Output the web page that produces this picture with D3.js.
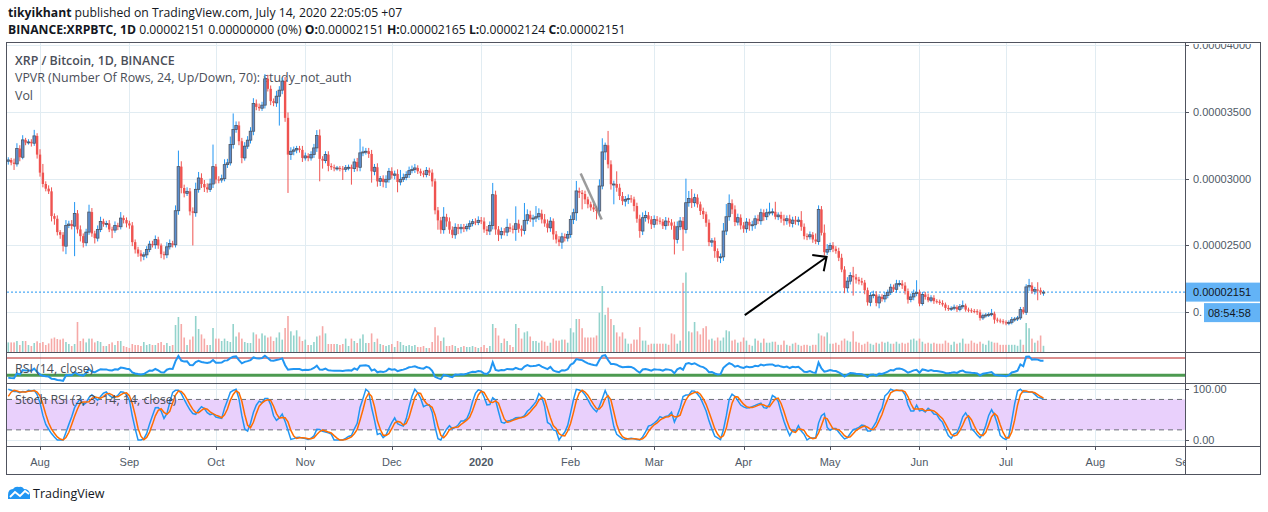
<!DOCTYPE html>
<html>
<head>
<meta charset="utf-8">
<script src="https://cdn.jsdelivr.net/npm/d3@7"></script>
<style>
  body { margin: 0; background: #fff; }
  svg { display: block; font-family: "Open Sans", sans-serif; }
</style>
</head>
<body>
<svg id="chart" width="1268" height="512"></svg>
<script>
// closes in satoshi (1e-8 BTC), one per day, first visible day = Jul 21 2019
var firstDay = Date.UTC(2019, 6, 21);
// closes before the visible range, only used to warm up RSI / Stoch RSI
var warmupClose = [5000,4950,4900,4880,4800,4700,4650,4600,4620,4630,4500,4300,4150,4050,3800,3550,3800,3750,3700,3720,
  3680,3650,3560,3500,3480,3470,3520,3480,3420,3350,3300,3250,3230,3150,3120,3180,3090,3050,3100,3130];

var closeJul19 = [3140,3120,3110,3225,3160,3290,3270,3275,3265,3320,3180];
var closeAug19 = [3045,2960,2925,2905,2720,2700,2600,2580,2495,2650,2660,2645,2740,2620,2570,2520,2600,2750,2590,2555,
  2620,2680,2660,2665,2620,2615,2650,2640,2705,2690,2665];
var closeSep19 = [2650,2525,2470,2440,2420,2430,2470,2510,2505,2545,2500,2435,2430,2490,2515,2505,2760,3090,2930,2890,
  2905,2755,2745,2920,3005,2960,2935,2920,2960,3090];
var closeOct19 = [2993,2990,3000,3105,3118,3255,3368,3398,3280,3155,3243,3288,3355,3562,3537,3527,3550,3747,3672,3580,
  3567,3617,3662,3730,3455,3180,3205,3215,3225,3215,3155];
var closeNov19 = [3170,3155,3180,3230,3323,3148,3135,3180,3095,3085,3080,3080,3075,3070,3082,3085,3075,3125,3085,3193,
  3200,3205,3185,3055,3085,2980,3000,2975,2995,3055];
var closeDec19 = [3025,3035,2975,2995,3008,3030,3060,3068,3080,3055,3040,3030,3062,3045,2980,2763,2688,2618,2712,2680,
  2618,2580,2636,2625,2636,2625,2643,2663,2678,2672,2688];
var closeJan20 = [2680,2620,2608,2650,2880,2620,2580,2605,2600,2636,2625,2620,2663,2625,2612,2688,2730,2700,2705,2715,
  2738,2695,2665,2632,2682,2583,2545,2525,2565,2555,2583];
var closeFeb20 = [2695,2745,2908,2895,2885,2845,2808,2785,2770,2758,2945,3200,3250,3107,2958,2960,2932,2870,2832,2845,
  2852,2845,2795,2700,2608,2708,2725,2695,2658];
var closeMar20 = [2695,2685,2678,2648,2683,2672,2648,2545,2640,2683,2620,2820,2852,2820,2858,2808,2758,2733,2670,2525,
  2535,2458,2408,2415,2608,2715,2815,2770,2675,2708,2650];
var closeApr20 = [2625,2675,2650,2655,2700,2685,2745,2715,2745,2750,2752,2715,2728,2700,2685,2700,2665,2690,2680,2690,
  2640,2570,2565,2580,2545,2530,2770,2595,2450,2470];
var closeMay20 = [2500,2475,2458,2408,2320,2183,2233,2275,2262,2245,2233,2222,2165,2075,2125,2132,2070,2115,2100,2125,
  2150,2188,2172,2213,2215,2200,2158,2095,2115,2140,2150];
var closeJun20 = [2065,2133,2115,2090,2108,2083,2080,2070,2058,2033,2025,2030,2038,2022,2042,2050,2020,2015,2010,2008,
  2000,1958,1975,1980,1985,1990,1945,1938,1933,1925];
var closeJul20 = [1918,1925,1945,1950,1958,2020,2000,2190,2200,2158,2170,2165,2151,2151];

// wick lengths above / below the body, satoshi
var wickUp = [].concat(
  [20,15,30,40,25,35,15,20,20,45,20],
  [40,65,20,25,30,20,25,15,20,40,25,30,85,25,30,20,25,55,30,20,30,35,20,20,25,20,30,20,45,20,20],
  [20,25,20,20,25,20,25,25,25,30,20,15,20,35,30,20,40,120,40,25,30,25,30,50,45,35,30,30,40,165],
  [20,25,30,40,30,60,120,30,30,25,30,30,30,40,30,25,25,35,30,25,20,40,30,25,30,40,30,25,20,20,30],
  [25,20,25,30,40,45,20,25,25,20,20,15,15,20,20,20,20,25,30,105,40,25,25,30,25,30,20,25,30,25],
  [30,25,35,70,30,25,30,30,30,20,20,20,25,20,25,20,25,25,75,25,30,25,30,25,25,25,20,25,20,25,30],
  [25,30,25,30,88,30,25,30,25,64,30,25,130,30,25,130,40,30,25,80,40,30,40,30,30,20,25,25,30,25,25],
  [30,30,75,25,20,25,20,20,25,25,50,102,20,107,30,25,95,30,30,25,30,25,20,25,30,40,35,25,25],
  [30,25,25,20,30,25,25,30,40,30,30,180,56,70,30,25,20,25,20,25,20,25,20,25,60,95,67,30,30,30,25],
  [25,30,25,30,25,30,30,25,30,70,25,75,20,25,30,25,30,25,30,25,67,25,20,25,20,45,30,25,62,40],
  [20,25,20,25,30,25,30,25,65,25,20,25,20,20,25,30,25,20,20,25,20,25,20,30,25,25,25,20,25,30,90],
  [20,20,20,25,20,20,15,15,20,15,20,15,20,15,20,38,15,15,15,15,15,20,15,15,15,35,15,15,15,15],
  [15,15,20,15,15,20,20,20,50,25,20,55,20,14]
);
var wickDown = [].concat(
  [25,20,45,20,30,15,20,15,25,20,30],
  [30,25,20,20,40,45,25,30,40,60,20,25,225,30,40,35,25,20,25,40,25,20,20,25,20,60,20,25,20,25,30],
  [25,30,30,25,40,30,25,20,20,30,25,30,35,25,20,20,20,30,40,30,20,30,245,30,25,30,35,25,20,30],
  [30,25,20,20,25,20,30,25,30,40,20,20,25,30,25,20,20,25,20,30,25,30,220,30,30,287,40,30,25,20,30],
  [20,25,20,25,30,168,60,20,40,20,25,20,20,80,20,20,120,25,30,30,25,20,30,85,30,40,35,40,45,25],
  [25,30,77,25,20,20,25,20,25,20,20,20,20,25,40,30,70,30,30,40,30,25,30,40,35,25,20,25,20,20,20],
  [20,25,30,30,30,40,47,30,25,30,25,30,85,30,45,30,30,25,60,30,25,30,25,35,30,40,30,30,50,25,25],
  [25,35,60,40,115,35,30,25,20,63,40,25,60,30,40,150,30,30,30,40,35,25,40,30,50,30,30,30,35],
  [25,30,20,25,30,25,30,112,30,25,160,30,30,40,30,25,30,35,30,30,35,50,30,40,30,30,30,35,30,25,30],
  [30,30,40,40,30,25,30,30,25,20,25,20,25,30,35,30,25,30,25,30,30,25,25,20,25,20,25,20,25,20],
  [20,25,20,25,20,40,30,25,137,30,25,20,30,25,30,20,25,40,20,25,20,20,20,25,20,25,25,30,20,25,20],
  [20,15,20,15,15,20,15,15,15,20,15,15,15,20,15,15,15,15,15,15,20,20,15,15,15,15,30,15,15,15],
  [15,15,15,15,15,15,15,20,30,20,25,75,20,27]
);

// volume per day (relative units)
var volJul19 = [9.6,9.6,9.6,11,7,11,11,7,6,9,10.7];
var volAug19 = [9,10,7,8.6,13.4,14.5,13,12.4,13.4,10,8,6,8,30,11,13.4,9.6,13.4,13.4,9.6,11,10,6,6,8,9.6,7,11,11,6,5];
var volSep19 = [4,8,7,7,6,10,7,8,7,7,9,10,7,9,6,7,27,35,28,14.5,7,12.4,15.5,36,23,17.6,13.4,7,7,24];
var volOct19 = [13.4,13.4,11,13.4,11,10,28,15.5,19.6,13.4,10,9,9,19.6,17.6,13.4,18.6,16.5,14.5,15.5,11,14.5,19.6,12.4,24,36,20.7,16.5,21.7,15.5,11];
var volNov19 = [12.4,7,7,10,15.5,16.5,25.8,18.6,8,8,8,8,7,8,13.4,6,13.4,11,9,13.4,17.6,9,9,18.6,10,13.4,8,7,6,7];
var volDec19 = [8,5,11,10,7,6,7,6,7,5,5,6,4,4,10,24.8,16.5,11,14.5,6,6,7,6,4,5,6,5,5,6,5,4];
var volJan20 = [5,7,4,6,28,24,16.5,9,13.4,11,7,5,28,24,13.4,19.6,20.7,15.5,11,11,9.3,11.4,10.3,6.2,9.3,13.4,11.4,11.4,12.4,12.4,9.3];
var volFeb20 = [23.8,19.6,33,33,23.8,14.5,14.5,14.5,14.5,16.5,39.3,66,37.2,44.4,33,26.9,19.6,15.5,19.6,13.4,8.3,8.3,12.4,12.4,24.8,11.4,11.4,7.2,8.3];
var volMar20 = [8.3,8.3,8.3,8.3,8.3,7.2,18.6,17.6,8.3,11.4,69.2,79.5,20.7,19.6,30,20.7,17.6,23.8,25.8,12.4,13.4,11.4,14.5,11.4,14.5,21.7,20.7,11.4,12.4,9.3,10.3];
var volApr20 = [14.5,11.4,7.2,6.2,13.4,11.4,9.3,13.4,9.3,9.3,10.3,10.3,7.2,7.2,11.4,7.2,6.2,8.3,9.3,7.2,6.2,7.2,7.2,6.2,7.2,7.2,18.6,16.5,15.5,19.6];
var volMay20 = [8.3,8.3,9.3,7.2,11.4,13.4,11.4,10.3,20.7,10.3,9.3,7.2,8.3,10.3,8.3,7.2,9.3,8.3,10.3,9.3,10.3,8.3,8.3,10.3,8.3,9.3,8.3,9.3,12.4,13.4,11.4];
var volJun20 = [13.4,10.3,8.3,9.3,8.3,9.3,8.3,8.3,8.3,11.4,9.3,7.2,10.3,8.3,9.3,13.4,8.3,8.3,11.4,9.3,8.3,10.3,8.3,7.2,11.4,10.3,9.3,9.3,7.2,7.2];
var volJul20 = [7.2,7.2,7.2,7.2,6.2,12.4,7.2,29,23.8,13.4,9.3,11.4,16.5,6.2];

// axis ticks
var priceTicks = [2000, 2500, 3000, 3500, 4000];
var monthTicks = [
  [2019,7,"Aug"],[2019,8,"Sep"],[2019,9,"Oct"],[2019,10,"Nov"],[2019,11,"Dec"],[2020,0,"2020"],
  [2020,1,"Feb"],[2020,2,"Mar"],[2020,3,"Apr"],[2020,4,"May"],[2020,5,"Jun"],[2020,6,"Jul"],[2020,7,"Aug"],[2020,8,"Sep"]
];
var lastPrice = 2151;

// drawings on the chart: [utc date string, price]
var arrowLine = [["2020-04-01T10:00Z", 1979], ["2020-04-29T19:00Z", 2414]];
var trendLine = [["2020-02-04T12:00Z", 3039], ["2020-02-11T19:00Z", 2694]];

// -------------------------------------------------------------
var closes = [].concat(closeJul19, closeAug19, closeSep19, closeOct19, closeNov19, closeDec19,
  closeJan20, closeFeb20, closeMar20, closeApr20, closeMay20, closeJun20, closeJul20);
var volumes = [].concat(volJul19, volAug19, volSep19, volOct19, volNov19, volDec19,
  volJan20, volFeb20, volMar20, volApr20, volMay20, volJun20, volJul20);

var candles = closes.map(function(c, i) {
  var o = i === 0 ? warmupClose[warmupClose.length - 1] : closes[i - 1];
  return {
    date: new Date(firstDay + i * 864e5),
    o: o, c: c,
    h: Math.max(o, c) + wickUp[i],
    l: Math.min(o, c) - wickDown[i],
    v: volumes[i],
    up: c >= o
  };
});

// RSI(14) and Stoch RSI(3,3,14,14)
var all = warmupClose.concat(closes);
var rsi = [];
var ag = 0, al = 0;
for (var i = 1; i < all.length; i++) {
  var ch = all[i] - all[i - 1];
  var g = Math.max(ch, 0), l = Math.max(-ch, 0);
  if (i <= 14) {
    ag += g / 14; al += l / 14;
    rsi[i] = i === 14 ? 100 - 100 / (1 + ag / al) : null;
  } else {
    ag = (ag * 13 + g) / 14; al = (al * 13 + l) / 14;
    rsi[i] = al === 0 ? 100 : 100 - 100 / (1 + ag / al);
  }
}
var stoch = [], kLine = [], dLine = [];
for (var i = 0; i < all.length; i++) {
  if (i >= 27) {
    var win = rsi.slice(i - 13, i + 1);
    var mn = d3.min(win), mx = d3.max(win);
    stoch[i] = mx === mn ? 50 : (rsi[i] - mn) / (mx - mn) * 100;
  }
  if (i >= 29) kLine[i] = (stoch[i] + stoch[i - 1] + stoch[i - 2]) / 3;
  if (i >= 31) dLine[i] = (kLine[i] + kLine[i - 1] + kLine[i - 2]) / 3;
}
var off = warmupClose.length;
var indicator = candles.map(function(c, i) {
  return { date: c.date, rsi: rsi[i + off], k: kLine[i + off], d: dLine[i + off] };
});

// -------------------------------------------------------------
var svg = d3.select("#chart");
var L = 7, R = 1185, AX = 1261;
var mainTop = 43, mainBot = 352, rsiBot = 383, stBot = 446, timeBot = 475;

var x = d3.scaleUtc()
  .domain([new Date(Date.UTC(2019, 7, 1)), new Date(Date.UTC(2020, 6, 1))])
  .range([40, 1006]);
var y = d3.scaleLinear().domain([2000, 4000]).range([312.3, 45]);
var yVol = d3.scaleLinear().domain([0, 100]).range([mainBot, mainBot - 100]);
var yRsi = d3.scaleLinear().domain([30, 70]).range([375.3, 358]);
var ySt = d3.scaleLinear().domain([0, 100]).range([440, 389.3]);

var defs = svg.append("defs");
function clip(id, x0, y0, x1, y1) {
  defs.append("clipPath").attr("id", id).append("rect")
    .attr("x", x0).attr("y", y0).attr("width", x1 - x0).attr("height", y1 - y0);
}
clip("cMain", L, mainTop, R, mainBot);
clip("cRsi", L, mainBot, R, rsiBot);
clip("cSt", L, rsiBot, R, stBot);
clip("cTime", L, stBot, R, timeBot);
clip("cAxis", R, mainTop + 1, AX, timeBot);

// header
var head = svg.append("g").attr("font-size", "12.2px").attr("fill", "#131722");
var h1 = head.append("text").attr("x", 8).attr("y", 17);
h1.append("tspan").attr("font-weight", 700).text("tikyikhant");
h1.append("tspan").text(" published on TradingView.com, July 14, 2020 22:05:05 +07");
var h2 = head.append("text").attr("x", 8).attr("y", 34);
[["BINANCE:XRPBTC, 1D", 700], [" 0.00002151 0.00000000 (0%) ", 400], ["O:", 700], ["0.00002151 ", 400],
 ["H:", 700], ["0.00002165 ", 400], ["L:", 700], ["0.00002124 ", 400], ["C:", 700], ["0.00002151", 400]]
  .forEach(function(p) { h2.append("tspan").attr("font-weight", p[1]).attr("xml:space", "preserve").text(p[0]); });

// grid
var monthDates = monthTicks.map(function(m) { return { date: new Date(Date.UTC(m[0], m[1], 1)), label: m[2] }; });
var grid = svg.append("g").attr("stroke", "#e1ecf2").attr("stroke-width", 1);
[["cMain", mainTop, mainBot], ["cRsi", mainBot, rsiBot], ["cSt", rsiBot, stBot]].forEach(function(p) {
  grid.append("g").attr("clip-path", "url(#" + p[0] + ")")
    .selectAll("line").data(monthDates).enter().append("line")
    .attr("x1", function(d) { return Math.round(x(d.date)) + 0.5; })
    .attr("x2", function(d) { return Math.round(x(d.date)) + 0.5; })
    .attr("y1", p[1]).attr("y2", p[2]);
});
grid.selectAll("line.h").data(priceTicks).enter().append("line")
  .attr("x1", L).attr("x2", R)
  .attr("y1", function(d) { return Math.round(y(d)) + 0.5; })
  .attr("y2", function(d) { return Math.round(y(d)) + 0.5; });
grid.selectAll("line.hs").data([0, 100]).enter().append("line")
  .attr("x1", L).attr("x2", R)
  .attr("y1", function(d) { return Math.round(ySt(d)) + 0.5; })
  .attr("y2", function(d) { return Math.round(ySt(d)) + 0.5; });

// legends of the main pane
var leg = svg.append("g").attr("font-size", "12.4px").attr("fill", "#4a4e58");
leg.append("text").attr("x", 15).attr("y", 65).attr("font-weight", 600).text("XRP / Bitcoin, 1D, BINANCE");
leg.append("text").attr("x", 15).attr("y", 82).text("VPVR (Number Of Rows, 24, Up/Down, 70): study_not_auth");
leg.append("text").attr("x", 15).attr("y", 100).text("Vol");

// volume
var bw = 1.6;
svg.append("g").attr("clip-path", "url(#cMain)")
  .selectAll("rect").data(candles).enter().append("rect")
  .attr("x", function(d) { return x(d.date) - bw / 2; })
  .attr("y", function(d) { return yVol(d.v); })
  .attr("width", bw)
  .attr("height", function(d) { return mainBot - yVol(d.v); })
  .attr("fill", function(d) { return d.up ? "#93d3cc" : "#f6a9a7"; });

// last price line
svg.append("line").attr("x1", L).attr("x2", R)
  .attr("y1", y(lastPrice)).attr("y2", y(lastPrice))
  .attr("stroke", "#2196f3").attr("stroke-width", 1).attr("stroke-dasharray", "2,2");

// candles
var cg = svg.append("g").attr("clip-path", "url(#cMain)");
cg.selectAll("line.wick").data(candles).enter().append("line")
  .attr("x1", function(d) { return x(d.date); })
  .attr("x2", function(d) { return x(d.date); })
  .attr("y1", function(d) { return y(d.h); })
  .attr("y2", function(d) { return y(d.l); })
  .attr("stroke", function(d) { return d.up ? "#2196f3" : "#ef5350"; })
  .attr("stroke-width", 1);
cg.selectAll("rect.body").data(candles).enter().append("rect")
  .attr("x", function(d) { return x(d.date) - (d.up ? 1.3 : 1.2); })
  .attr("y", function(d) { return y(Math.max(d.o, d.c)); })
  .attr("width", function(d) { return d.up ? 2.6 : 2.4; })
  .attr("height", function(d) { return Math.max(1, Math.abs(y(d.o) - y(d.c))); })
  .attr("fill", function(d) { return d.up ? "#5b8fd1" : "#ef5350"; })
  .attr("stroke", function(d) { return d.up ? "#4f5561" : "none"; })
  .attr("stroke-width", 0.8);

// drawings
svg.append("line").attr("clip-path", "url(#cMain)")
  .attr("x1", x(new Date(trendLine[0][0]))).attr("y1", y(trendLine[0][1]))
  .attr("x2", x(new Date(trendLine[1][0]))).attr("y2", y(trendLine[1][1]))
  .attr("stroke", "#8a8a8a").attr("stroke-width", 2.5).attr("stroke-opacity", 0.85);
defs.append("marker").attr("id", "head").attr("markerUnits", "userSpaceOnUse")
  .attr("viewBox", "-16 -12 18 24").attr("refX", 0).attr("refY", 0)
  .attr("markerWidth", 18).attr("markerHeight", 24).attr("orient", "auto")
  .append("path").attr("d", "M-10.6,-9.9L0,0L-10.6,9.9").attr("fill", "none")
  .attr("stroke", "#000").attr("stroke-width", 2);
svg.append("line")
  .attr("x1", x(new Date(arrowLine[0][0]))).attr("y1", y(arrowLine[0][1]))
  .attr("x2", x(new Date(arrowLine[1][0]))).attr("y2", y(arrowLine[1][1]))
  .attr("stroke", "#000").attr("stroke-width", 2).attr("marker-end", "url(#head)");

// RSI pane
var rg = svg.append("g").attr("clip-path", "url(#cRsi)");
rg.append("line").attr("x1", L).attr("x2", R).attr("y1", yRsi(70)).attr("y2", yRsi(70))
  .attr("stroke", "#b71c1c").attr("stroke-width", 1.2);
rg.append("line").attr("x1", L).attr("x2", R).attr("y1", yRsi(30)).attr("y2", yRsi(30))
  .attr("stroke", "#4c9a50").attr("stroke-width", 3);
rg.append("path").datum(indicator.filter(function(d) { return d.rsi != null; }))
  .attr("fill", "none").attr("stroke", "#2196f3").attr("stroke-width", 2)
  .attr("d", d3.line().x(function(d) { return x(d.date); }).y(function(d) { return yRsi(d.rsi); }));
svg.append("text").attr("x", 15).attr("y", 373).attr("font-size", "12.4px").attr("fill", "#4a4e58")
  .text("RSI (14, close)");

// Stoch RSI pane
var sg = svg.append("g").attr("clip-path", "url(#cSt)");
sg.append("rect").attr("x", L).attr("width", R - L)
  .attr("y", ySt(80)).attr("height", ySt(20) - ySt(80)).attr("fill", "#e9d0fc");
[80, 20].forEach(function(v) {
  sg.append("line").attr("x1", L).attr("x2", R).attr("y1", ySt(v)).attr("y2", ySt(v))
    .attr("stroke", "#6b6e78").attr("stroke-dasharray", "5,4");
});
sg.append("path").datum(indicator.filter(function(d) { return d.k != null; }))
  .attr("fill", "none").attr("stroke", "#2196f3").attr("stroke-width", 1.5)
  .attr("d", d3.line().x(function(d) { return x(d.date); }).y(function(d) { return ySt(d.k); }));
sg.append("path").datum(indicator.filter(function(d) { return d.d != null; }))
  .attr("fill", "none").attr("stroke", "#ff6d00").attr("stroke-width", 1.5)
  .attr("d", d3.line().x(function(d) { return x(d.date); }).y(function(d) { return ySt(d.d); }));
svg.append("text").attr("x", 15).attr("y", 404).attr("font-size", "12.4px").attr("fill", "#4a4e58")
  .text("Stoch RSI (3, 3, 14, 14, close)");

// price axis
var axisFont = "Liberation Sans, Arial, sans-serif";
var pa = svg.append("g").attr("clip-path", "url(#cAxis)")
  .attr("font-family", axisFont).attr("font-size", "11px").attr("fill", "#4f5966");
pa.selectAll("line").data(priceTicks).enter().append("line")
  .attr("x1", R).attr("x2", R + 4)
  .attr("y1", function(d) { return Math.round(y(d)) + 0.5; })
  .attr("y2", function(d) { return Math.round(y(d)) + 0.5; })
  .attr("stroke", "#50535e");
// the countdown badge hides most of the label next to it, as in the original
var badgeTop = y(lastPrice) + 11;
pa.selectAll("text").data(priceTicks).enter().append("text")
  .attr("x", R + 8).attr("y", function(d) { return y(d) + 4; })
  .text(function(d) {
    var s = (d / 1e8).toFixed(8);
    return Math.abs(y(d) - (badgeTop + 9.5)) < 10 ? s.slice(0, 2) : s;
  });
[0, 100].forEach(function(v) {
  pa.append("line").attr("x1", R).attr("x2", R + 4)
    .attr("y1", Math.round(ySt(v)) + 0.5).attr("y2", Math.round(ySt(v)) + 0.5).attr("stroke", "#50535e");
  pa.append("text").attr("x", R + 8).attr("y", ySt(v) + 4).text(v.toFixed(2));
});
// last price badge and countdown
pa.append("rect").attr("x", R + 1).attr("y", y(lastPrice) - 9.5).attr("width", AX - R - 2).attr("height", 19)
  .attr("fill", "#63b3f6");
pa.append("text").attr("x", R + 8).attr("y", y(lastPrice) + 4).attr("fill", "#131722")
  .text((lastPrice / 1e8).toFixed(8));
pa.append("rect").attr("x", R + 19).attr("y", badgeTop).attr("width", AX - R - 20).attr("height", 19)
  .attr("fill", "#63b3f6");
pa.append("text").attr("x", R + 23).attr("y", badgeTop + 13.5).attr("fill", "#131722")
  .text("08:54:58");

// time axis
var ta = svg.append("g").attr("clip-path", "url(#cTime)")
  .attr("font-family", axisFont).attr("font-size", "11px").attr("fill", "#4f5966");
ta.selectAll("line").data(monthDates).enter().append("line")
  .attr("x1", function(d) { return Math.round(x(d.date)) + 0.5; })
  .attr("x2", function(d) { return Math.round(x(d.date)) + 0.5; })
  .attr("y1", stBot).attr("y2", stBot + 4).attr("stroke", "#50535e");
ta.selectAll("text").data(monthDates).enter().append("text")
  .attr("x", function(d) { return x(d.date); }).attr("y", 466)
  .attr("text-anchor", "middle")
  .attr("font-weight", function(d) { return d.label === "2020" ? 700 : 400; })
  .text(function(d) { return d.label; });

// frames
var fr = svg.append("g").attr("stroke", "#50535e").attr("stroke-width", 1).attr("fill", "none");
fr.append("rect").attr("x", L - 0.5).attr("y", mainTop - 0.5).attr("width", AX - L).attr("height", timeBot - mainTop);
fr.append("line").attr("x1", R + 0.5).attr("x2", R + 0.5).attr("y1", mainTop).attr("y2", timeBot);
[mainBot, rsiBot, stBot].forEach(function(yy) {
  fr.append("line").attr("x1", L).attr("x2", AX).attr("y1", yy + 0.5).attr("y2", yy + 0.5);
});

// TradingView logo
var logo = svg.append("g").attr("transform", "translate(8,486)");
logo.append("path").attr("d", "M0,13 L0,9 Q0,3 5,3 Q7,0 11,1 Q14,0 16,3 Q21,3 22,8 L22,13 Z").attr("fill", "#2196f3");
logo.append("path").attr("d", "M2,11 L7,6 L12,10 L17,5 L21,8").attr("fill", "none")
  .attr("stroke", "#fff").attr("stroke-width", 1.8);
svg.append("text").attr("x", 33).attr("y", 498).attr("font-size", "12.5px").attr("fill", "#131722")
  .text("TradingView");
</script>
</body>
</html>
